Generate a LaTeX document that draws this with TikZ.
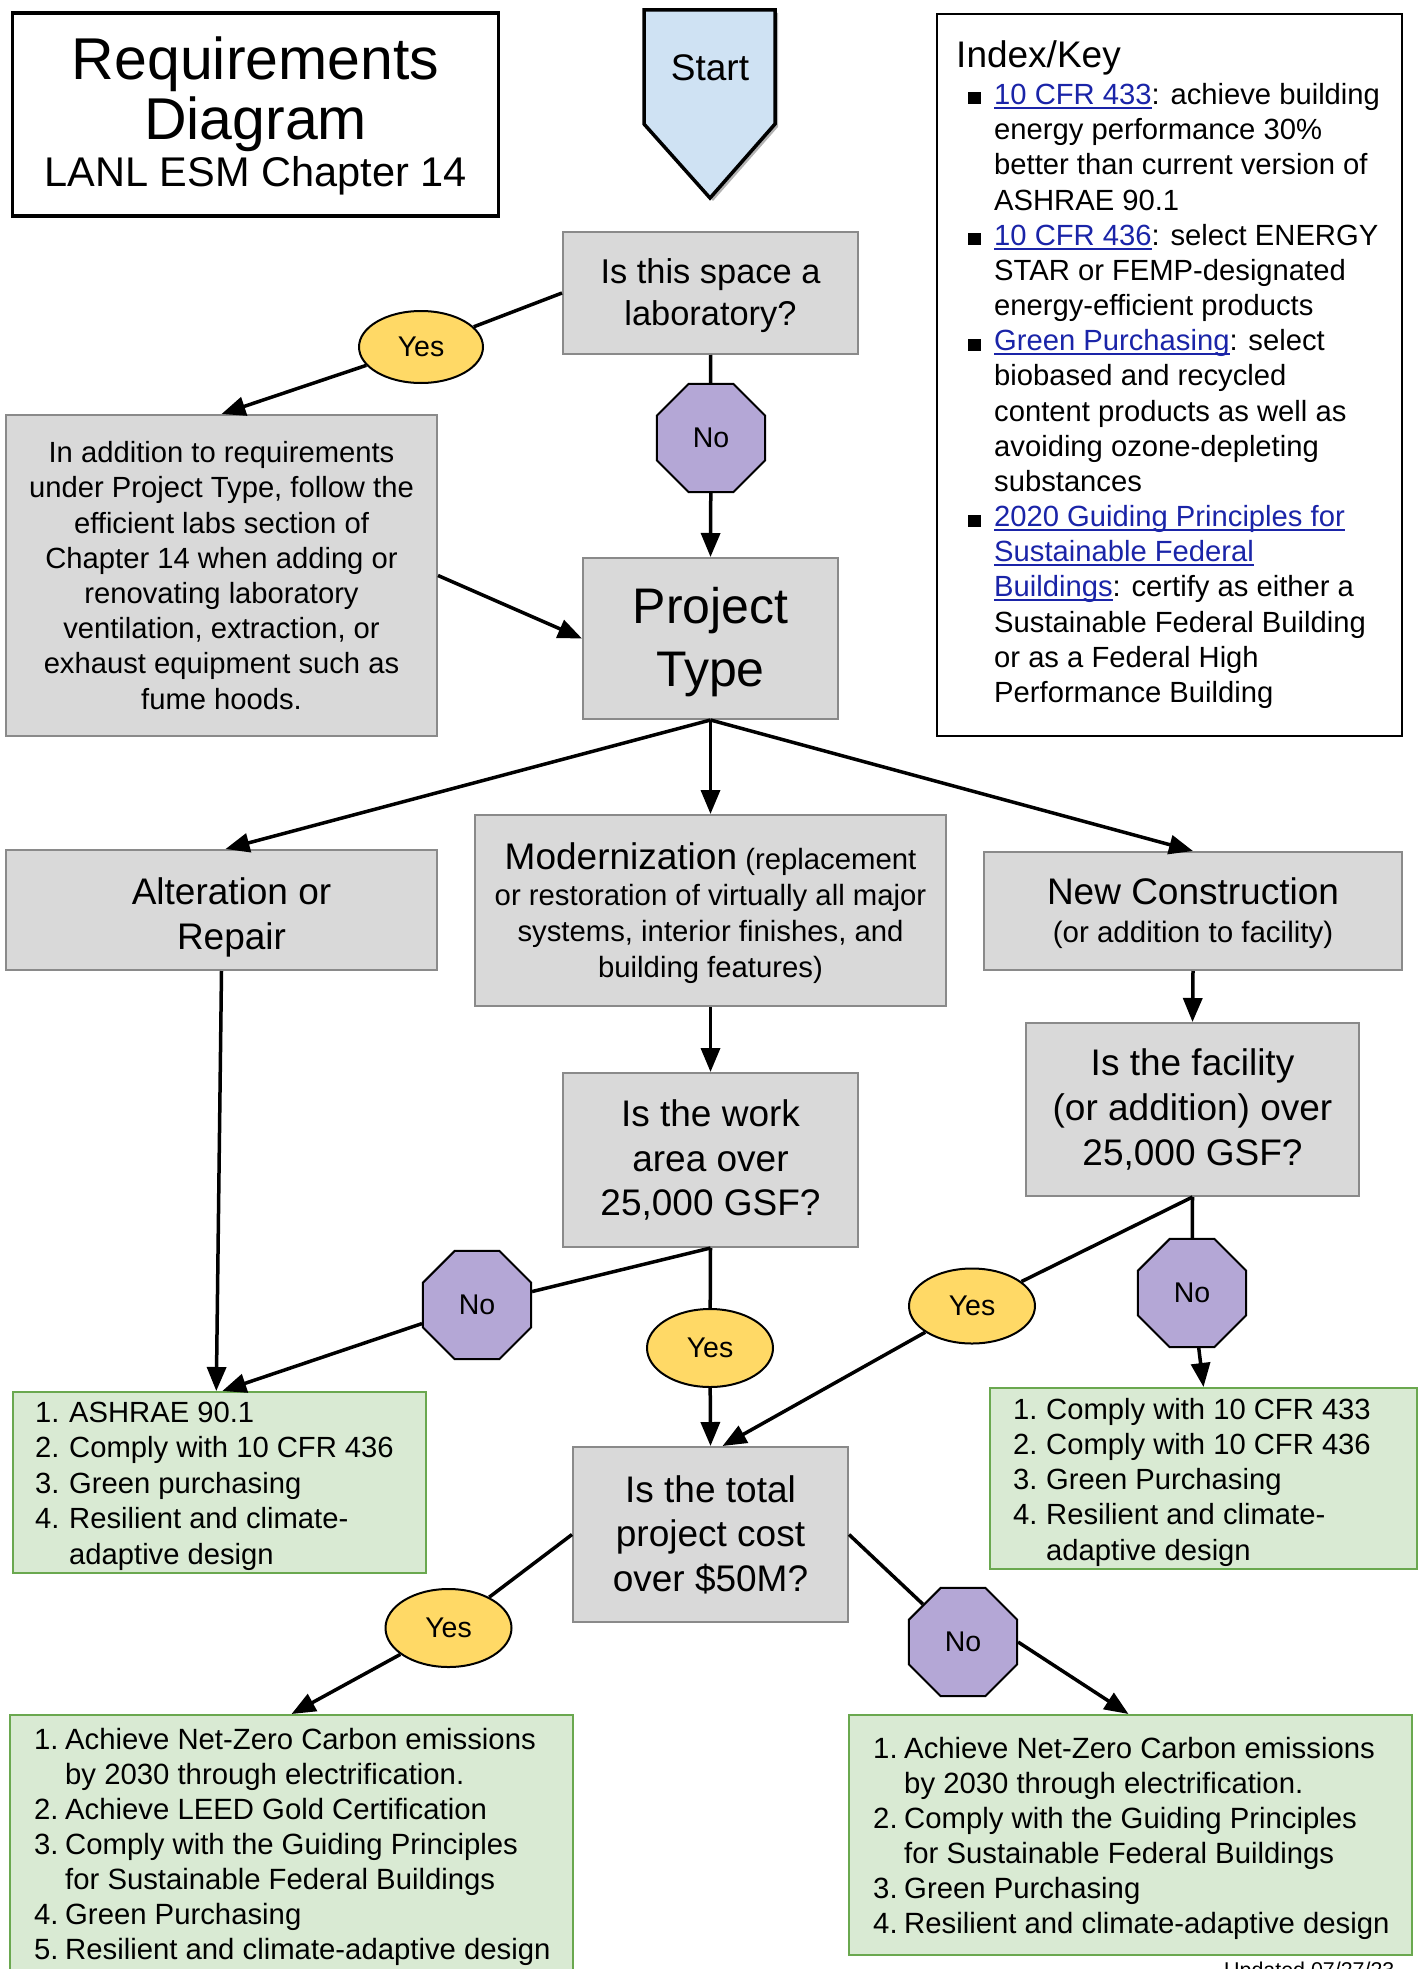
\documentclass[tikz,border=0pt]{standalone}
\usepackage{fontspec}
\setmainfont{Liberation Sans}
\usetikzlibrary{arrows.meta,shapes.geometric,shadows}
\definecolor{boxgray}{HTML}{D9D9D9}
\definecolor{boxedge}{HTML}{8A8A8A}
\definecolor{greenfill}{HTML}{D9EAD3}
\definecolor{greenedge}{HTML}{6AA84F}
\definecolor{yesfill}{HTML}{FFD966}
\definecolor{nofill}{HTML}{B4A7D6}
\definecolor{startfill}{HTML}{CFE2F3}
\definecolor{linkblue}{HTML}{1A24A8}
\newcommand\fs[2]{\fontsize{#1pt}{#2pt}\selectfont}
\newcommand\lnk[1]{{\color{linkblue}\setbox0=\hbox{#1}\rlap{\rule[-4.5pt]{\wd0}{2pt}}\box0}}
\newcommand\keybul{\rule{13pt}{12pt}}
\tikzset{
  gbox/.style={draw=boxedge, fill=boxgray, line width=2pt, rectangle, inner sep=0pt, align=center},
  greenbox/.style={draw=greenedge, fill=greenfill, line width=2pt, rectangle, inner sep=0pt},
  yesnode/.style={ellipse, draw=black, fill=yesfill, line width=2pt, inner sep=0pt, font=\fs{28.5}{32}},
  nonode/.style={regular polygon, regular polygon sides=8, minimum size=117pt, draw=black, fill=nofill, line width=2pt, inner sep=0pt, font=\fs{28.5}{32}},
  conn/.style={line width=3.5pt, draw=black},
  arr/.style={conn, -{Triangle[length=24pt,width=19pt]}},
  txt/.style={inner sep=0pt},
}
\begin{document}
\begin{tikzpicture}[x=1pt,y=-1pt]
\clip (0,0) rectangle (1427,1969);
\fill[white] (0,0) rectangle (1427,1969);

% title
\node[draw=black, line width=3.5pt, minimum width=486pt, minimum height=203pt, inner sep=0pt] (title) at (255.6,114.3) {};
\node[txt, anchor=base] (t1) at (255.6,80) {\fs{59}{60}Requirements};
\node[txt, anchor=base] (t2) at (255.6,140) {\fs{59}{60}Diagram};
\node[txt, anchor=base] (t3) at (255.6,187) {\fs{41.5}{48}LANL ESM Chapter 14};

% start
\path[draw=black, line width=3.5pt, fill=startfill, drop shadow={shadow xshift=3pt, shadow yshift=-3pt, opacity=0.3, fill=black}]
  (644,10) -- (775,10) -- (775,124) -- (710,198) -- (644,124) -- cycle;
\node[txt, font=\fs{37}{44}] (start) at (710,68) {Start};

% index / key
\node[draw=black, line width=2.2pt, minimum width=465pt, minimum height=722pt, inner sep=0pt] (key) at (1169.5,375) {};
\node[txt, anchor=base west, font=\fs{37}{44}] (keyhead) at (956,68) {Index/Key};
\node[txt, anchor=base west, font=\fs{29.2}{35.17}] (keylist) at (968,104.5) {%
\begin{tabular}[t]{@{}p{26pt}@{}l@{}}
\keybul & \lnk{10 CFR 433}: achieve building\\
 & energy performance 30\%\\
 & better than current version of\\
 & ASHRAE 90.1\\
\keybul & \lnk{10 CFR 436}: select ENERGY\\
 & STAR or FEMP-designated\\
 & energy-efficient products\\
\keybul & \lnk{Green Purchasing}: select\\
 & biobased and recycled\\
 & content products as well as\\
 & avoiding ozone-depleting\\
 & substances\\
\keybul & \lnk{2020 Guiding Principles for}\\
 & \lnk{Sustainable Federal}\\
 & \lnk{Buildings}: certify as either a\\
 & Sustainable Federal Building\\
 & or as a Federal High\\
 & Performance Building
\end{tabular}};

% main flow
\node[gbox, minimum width=295pt, minimum height=122pt, font=\fs{34.4}{41.5}] (q1) at (710.5,293) {};
\node[txt, align=center, font=\fs{34.4}{41.5}] (q1t) at (710.5,295.5) {Is this space a\\laboratory?};
\node[yesnode, minimum width=124pt, minimum height=72pt] (y1) at (421,347) {Yes};
\node[nonode] (n1) at (711,438) {No};
\node[gbox, minimum width=431pt, minimum height=321pt, font=\fs{29.2}{35.2}] (lab) at (221.5,575.5) {In addition to requirements\\under Project Type, follow the\\efficient labs section of\\Chapter 14 when adding or\\renovating laboratory\\ventilation, extraction, or\\exhaust equipment such as\\fume hoods.};
\node[gbox, minimum width=255pt, minimum height=161pt] (ptype) at (710.5,638.5) {};
\node[txt, align=center, font=\fs{50}{63}] (ptypet) at (710.5,642.5) {Project\\Type};

\node[gbox, minimum width=431pt, minimum height=120pt] (alt) at (221.5,910) {};
\node[txt, align=center, font=\fs{37}{45}] (altt) at (231.5,917.5) {Alteration or\\Repair};
\node[gbox, minimum width=471pt, minimum height=191pt] (mod) at (710.5,910.5) {};
\node[txt, align=center, font=\fs{29.3}{35.8}] (modt) at (710.5,913) {{\fs{37}{44}Modernization} (replacement\\or restoration of virtually all major\\systems, interior finishes, and\\building features)};
\node[gbox, minimum width=418pt, minimum height=118pt] (newc) at (1193,911) {};
\node[txt, align=center, font=\fs{29.5}{38}] (newct) at (1193,913.5) {{\fs{37}{44}New Construction}\\(or addition to facility)};

\node[gbox, minimum width=295pt, minimum height=174pt, font=\fs{37}{44.6}] (qwork) at (710.5,1160) {Is the work\\area over\\25,000 GSF?};
\node[gbox, minimum width=333pt, minimum height=173pt, font=\fs{37}{44.6}] (qfac) at (1192.5,1109.5) {Is the facility\\(or addition) over\\25,000 GSF?};

\node[nonode] (n2) at (477,1305) {No};
\node[yesnode, minimum width=126pt, minimum height=78pt] (y2) at (710,1348) {Yes};
\node[yesnode, minimum width=126pt, minimum height=75pt] (y3) at (972,1306) {Yes};
\node[nonode] (n3) at (1192,1293) {No};

\node[gbox, minimum width=275pt, minimum height=175pt, font=\fs{37}{44.6}] (qcost) at (710.5,1534.5) {Is the total\\project cost\\over \$50M?};
\node[yesnode, minimum width=126pt, minimum height=78pt] (y4) at (448.5,1628) {Yes};
\node[nonode] (n4) at (963,1642) {No};

% requirement boxes
\node[greenbox, minimum width=413pt, minimum height=181pt] (g1) at (219.3,1482.5) {};
\node[txt, anchor=base west, font=\fs{29.2}{35.5}] (g1t) at (35,1422) {%
\begin{tabular}[t]{@{}p{34pt}@{}l@{}}
1. & ASHRAE 90.1\\
2. & Comply with 10 CFR 436\\
3. & Green purchasing\\
4. & Resilient and climate-\\
 & adaptive design
\end{tabular}};

\node[greenbox, minimum width=427pt, minimum height=181pt] (g2) at (1203.5,1478.5) {};
\node[txt, anchor=base west, font=\fs{29.2}{35.3}] (g2t) at (1013,1419) {%
\begin{tabular}[t]{@{}p{33pt}@{}l@{}}
1. & Comply with 10 CFR 433\\
2. & Comply with 10 CFR 436\\
3. & Green Purchasing\\
4. & Resilient and climate-\\
 & adaptive design
\end{tabular}};

\node[greenbox, minimum width=563pt, minimum height=290pt] (g3) at (291.5,1860) {};
\node[txt, anchor=base west, font=\fs{29.3}{35.1}] (g3t) at (34,1749) {%
\begin{tabular}[t]{@{}p{31pt}@{}l@{}}
1. & Achieve Net-Zero Carbon emissions\\
 & by 2030 through electrification.\\
2. & Achieve LEED Gold Certification\\
3. & Comply with the Guiding Principles\\
 & for Sustainable Federal Buildings\\
4. & Green Purchasing\\
5. & Resilient and climate-adaptive design
\end{tabular}};

\node[greenbox, minimum width=563pt, minimum height=240pt] (g4) at (1130.5,1835) {};
\node[txt, anchor=base west, font=\fs{29.3}{35}] (g4t) at (873,1758) {%
\begin{tabular}[t]{@{}p{31pt}@{}l@{}}
1. & Achieve Net-Zero Carbon emissions\\
 & by 2030 through electrification.\\
2. & Comply with the Guiding Principles\\
 & for Sustainable Federal Buildings\\
3. & Green Purchasing\\
4. & Resilient and climate-adaptive design
\end{tabular}};

\node[txt, anchor=base west, font=\fs{21.4}{25}] (upd) at (1224,1977) {Updated 07/27/23};

% connectors
\draw[conn] (q1.west) -- (y1);
\draw[arr] (y1) -- (lab.north);
\draw[conn] (q1.south) -- (n1);
\draw[arr] (n1) -- (ptype.north);
\draw[arr] (lab.east) -- (ptype.west);
\draw[arr] (ptype.south) -- ([xshift=4pt]alt.north);
\draw[arr] (ptype.south) -- (mod.north);
\draw[arr] (ptype.south) -- (newc.north);
\draw[arr] (alt.south) -- ([xshift=-3pt]g1.north);
\draw[arr] (mod.south) -- (qwork.north);
\draw[arr] (newc.south) -- (qfac.north);
\draw[conn] (qwork.south) -- (n2);
\draw[arr] (n2) -- ([xshift=3pt]g1.north);
\draw[conn] (qwork.south) -- (y2);
\draw[arr] (y2) -- (qcost.north);
\draw[conn] (qfac.south) -- (y3);
\draw[arr] (y3) -- ([xshift=12pt]qcost.north);
\draw[conn] (qfac.south) -- (n3);
\draw[arr] (n3) -- (g2.north);
\draw[conn] (qcost.west) -- (y4);
\draw[arr] (y4) -- (g3.north);
\draw[conn] (qcost.east) -- (n4);
\draw[arr] (n4.east) -- ([xshift=-2pt]g4.north);
\end{tikzpicture}
\end{document}
